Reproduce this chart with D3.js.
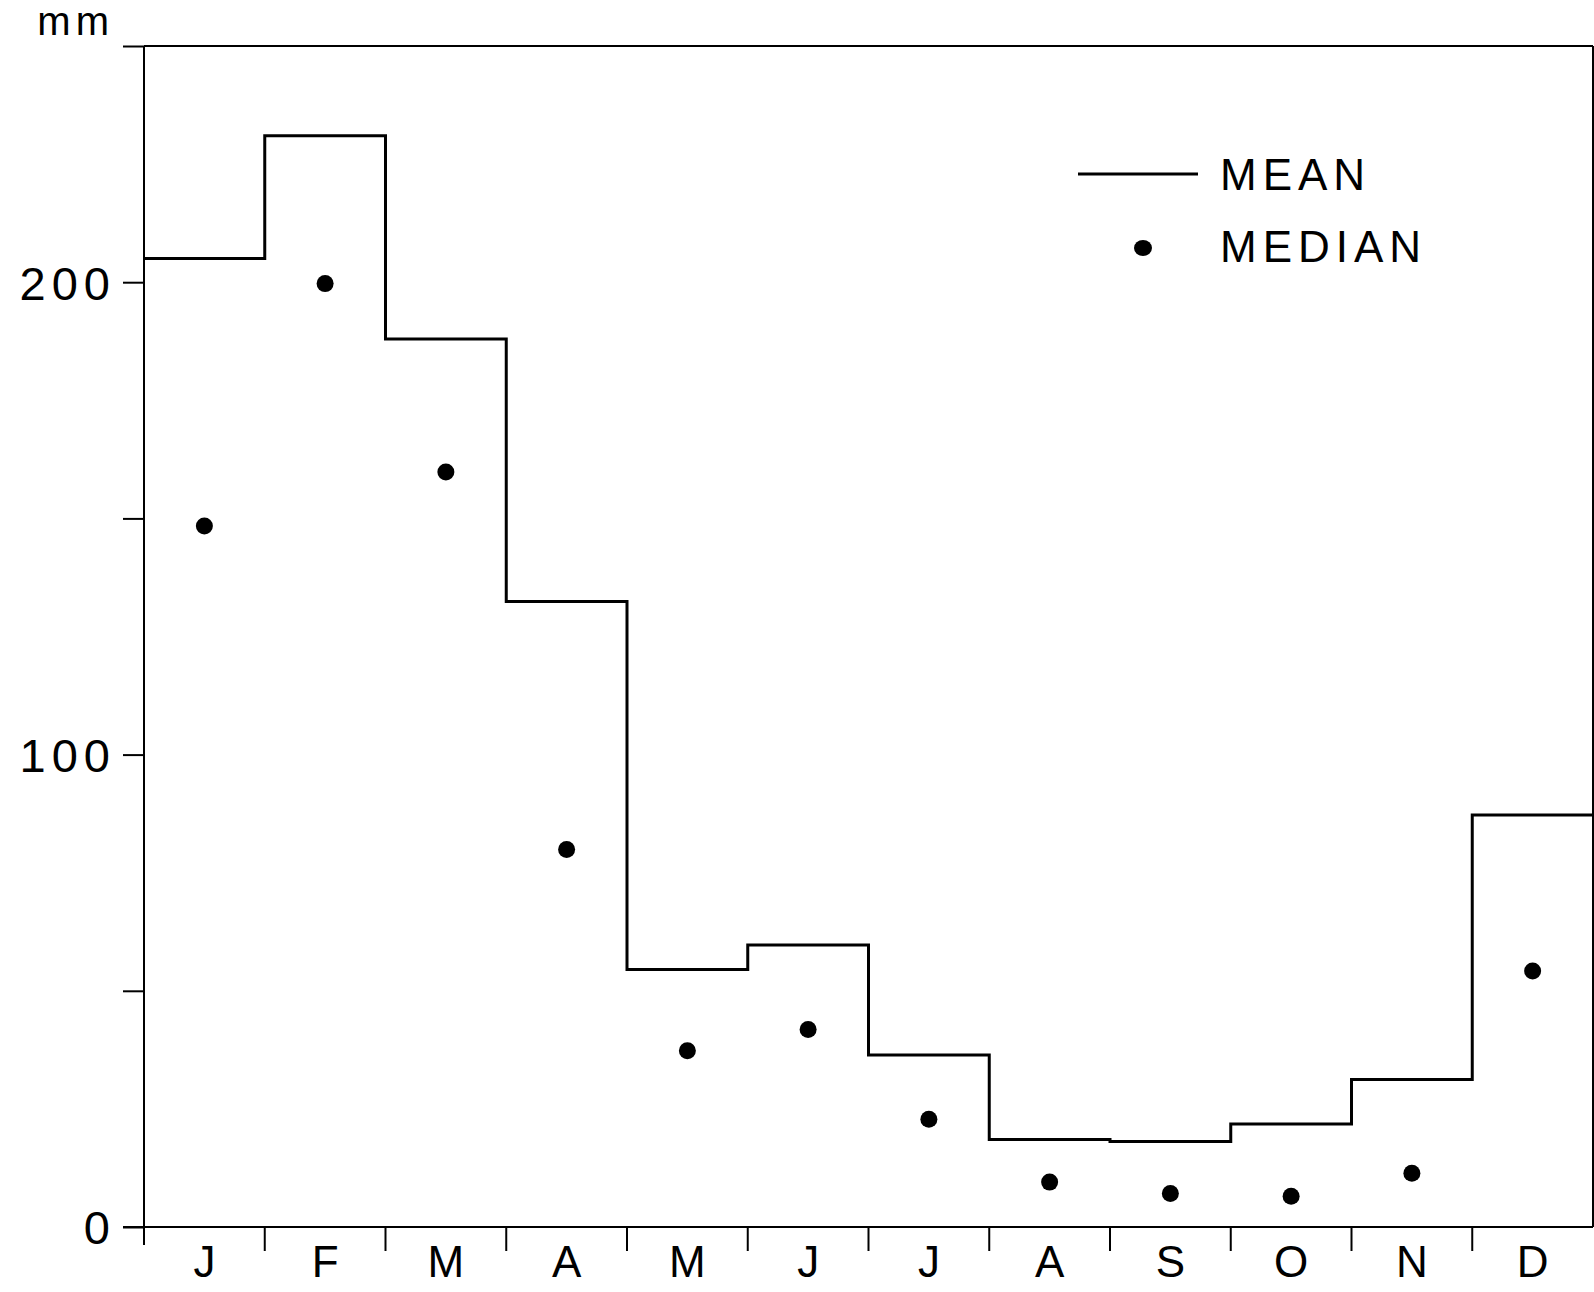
<!DOCTYPE html>
<html>
<head>
<meta charset="utf-8">
<script src="https://cdn.jsdelivr.net/npm/d3@7"></script>
<style>
  html, body { margin: 0; padding: 0; background: #fff; }
  svg { display: block; }
  text { font-family: "Liberation Sans", Arial, Helvetica, sans-serif; fill: #000; }
</style>
</head>
<body>
<svg id="chart" width="1594" height="1292"></svg>
<script>
const months = ["J","F","M","A","M","J","J","A","S","O","N","D"];
const meanValues = [205, 231, 188, 132.4, 54.5, 59.7, 36.4, 18.5, 18.1, 21.8, 31.2, 87.2];
const medianValues = [148.4, 199.7, 159.8, 79.9, 37.3, 41.8, 22.8, 9.5, 7.1, 6.5, 11.4, 54.2];
const yTicks = [0, 50, 100, 150, 200, 250];
const yTickLabels = ["0", "", "100", "", "200", ""];
const yUnit = "mm";
const legendLabels = ["MEAN", "MEDIAN"];

(function () {
const svg = d3.select("#chart");
const mLeft = 144, mRight = 1593, mTop = 46, mBottom = 1227;

const x = d3.scaleLinear().domain([0, 12]).range([mLeft, mRight]);
const y = d3.scaleLinear().domain([0, 250]).range([mBottom, mTop]);

// Y axis
const yAxis = d3.axisLeft(y).tickValues(yTicks).tickSize(21).tickPadding(7)
  .tickFormat((d, i) => yTickLabels[i]);
const gy = svg.append("g").attr("transform", `translate(${mLeft},0)`).call(yAxis);
gy.select(".domain").remove();
gy.selectAll(".tick line").attr("stroke", "#000").attr("stroke-width", 2);
gy.selectAll(".tick text").attr("font-size", 47).attr("dy", "0.36em").attr("letter-spacing", 6)
  .style("font-family", '"Liberation Sans", Arial, sans-serif').attr("fill", "#000");
svg.append("line").attr("x1", mLeft).attr("x2", mLeft).attr("y1", mTop).attr("y2", mBottom + 18)
  .attr("stroke", "#000").attr("stroke-width", 2);

// top border
svg.append("line").attr("x1", mLeft).attr("x2", mRight).attr("y1", mTop).attr("y2", mTop)
  .attr("stroke", "#000").attr("stroke-width", 2);
// right border
svg.append("line").attr("x1", mRight).attr("x2", mRight).attr("y1", mTop).attr("y2", mBottom)
  .attr("stroke", "#000").attr("stroke-width", 2);

// X axis
const gx = svg.append("g").attr("transform", `translate(0,${mBottom})`);
gx.append("line").attr("x1", x(0) - 21).attr("x2", mRight).attr("y1", 0).attr("y2", 0)
  .attr("stroke", "#000").attr("stroke-width", 2);
const boundaries = d3.range(1, 12);
gx.selectAll(".mtick").data(boundaries).join("line")
  .attr("x1", d => x(d)).attr("x2", d => x(d)).attr("y1", 0).attr("y2", 24)
  .attr("stroke", "#000").attr("stroke-width", 2);
gx.selectAll(".mlabel").data(months).join("text")
  .attr("x", (d, i) => x(i + 0.5)).attr("y", 50)
  .attr("text-anchor", "middle").attr("font-size", 44).text(d => d);

// unit label
svg.append("text").attr("x", 114).attr("y", 35).attr("text-anchor", "end")
  .attr("font-size", 40).attr("letter-spacing", 5).text(yUnit);

// Mean step line
const stepData = meanValues.map((v, i) => [i, v]).concat([[12, meanValues[11]]]);
const line = d3.line().x(d => x(d[0])).y(d => y(d[1])).curve(d3.curveStepAfter);
svg.append("path").datum(stepData).attr("d", line)
  .attr("fill", "none").attr("stroke", "#000").attr("stroke-width", 3);

// Median dots
svg.selectAll(".med").data(medianValues).join("circle")
  .attr("cx", (d, i) => x(i + 0.5)).attr("cy", d => y(d)).attr("r", 8.5).attr("fill", "#000");

// Legend
const lg = svg.append("g");
lg.append("line").attr("x1", 1078).attr("x2", 1198).attr("y1", 174).attr("y2", 174)
  .attr("stroke", "#000").attr("stroke-width", 3);
lg.append("text").attr("x", 1220).attr("y", 190).attr("font-size", 44).attr("letter-spacing", 6)
  .text(legendLabels[0]);
lg.append("ellipse").attr("cx", 1143).attr("cy", 248).attr("rx", 9).attr("ry", 8).attr("fill", "#000");
lg.append("text").attr("x", 1220).attr("y", 262).attr("font-size", 44).attr("letter-spacing", 6)
  .text(legendLabels[1]);
})();
</script>
</body>
</html>
